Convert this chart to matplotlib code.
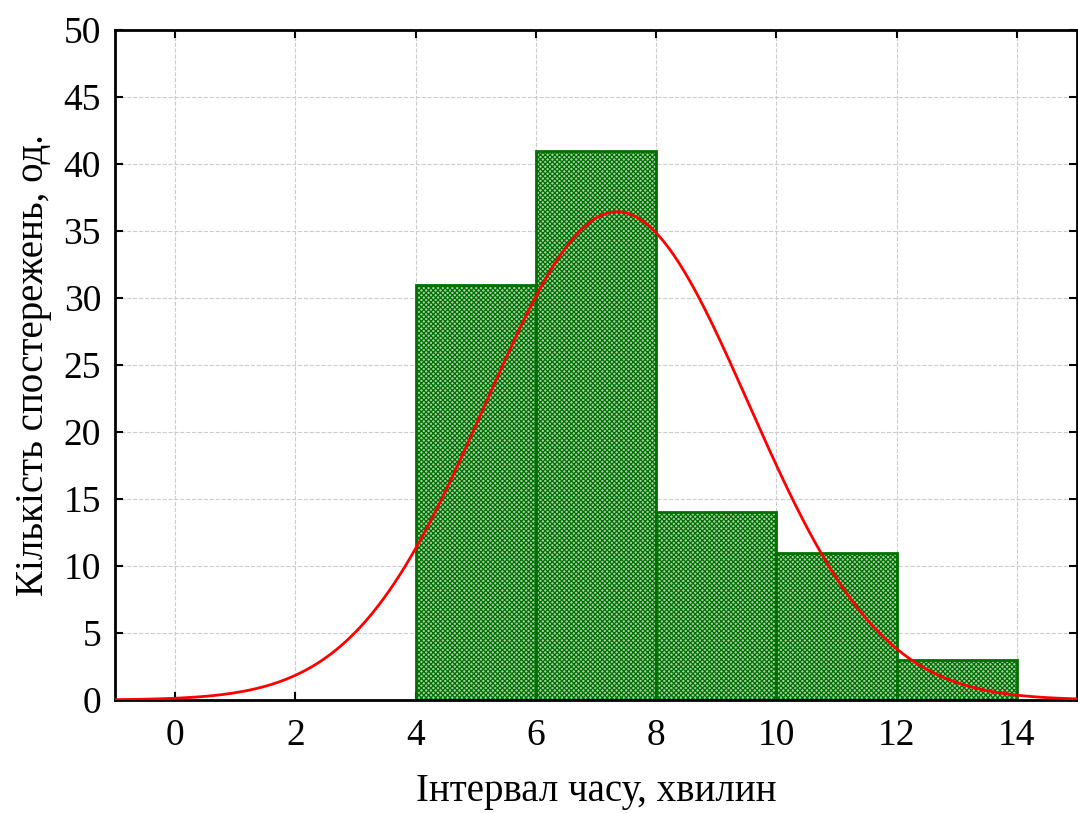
import numpy as np
import matplotlib
matplotlib.use('Agg')
import matplotlib.pyplot as plt

plt.rcParams['font.family'] = ['Liberation Serif', 'DejaVu Serif']
plt.rcParams['hatch.linewidth'] = 0.9

# інтервали (межі класів) та частоти
bin_left = [4, 6, 8, 10, 12]
counts = [31, 41, 14, 11, 3]
bin_width = 2

# параметри нормального розподілу (оцінені з графіка)
mu = 7.35
sigma = 2.19
n_total = sum(counts)

fig = plt.figure(figsize=(10.78, 8.13), dpi=100)
ax = fig.add_axes([115/1078, 113/813, 962/1078, 670/813])

ax.bar(bin_left, counts, width=bin_width, align='edge',
       facecolor='#a8d0a8', edgecolor='#007000', linewidth=2,
       hatch='xxxxxxx', zorder=2)

x = np.linspace(-1, 15, 400)
y = n_total * bin_width / (sigma * np.sqrt(2 * np.pi)) * np.exp(-0.5 * ((x - mu) / sigma) ** 2)
ax.plot(x, y, color='red', linewidth=2, zorder=3)

ax.set_xlim(-1, 15)
ax.set_ylim(0, 50)
ax.set_xticks(range(0, 15, 2))
ax.set_yticks(range(0, 51, 5))
ax.grid(True, linestyle='--', color='#cccccc', linewidth=0.8, zorder=0)
ax.set_axisbelow(True)
ax.tick_params(direction='in', top=True, right=True, length=6, width=1.5,
               labelsize=27)
ax.tick_params(axis='x', pad=13)
ax.tick_params(axis='y', pad=10)
for s in ax.spines.values():
    s.set_linewidth(2)

ax.set_xlabel('Інтервал часу, хвилин', fontsize=28, labelpad=15)
ax.set_ylabel('Кількість спостережень, од.', fontsize=28, labelpad=8)

fig.savefig('out.png', dpi=100)
